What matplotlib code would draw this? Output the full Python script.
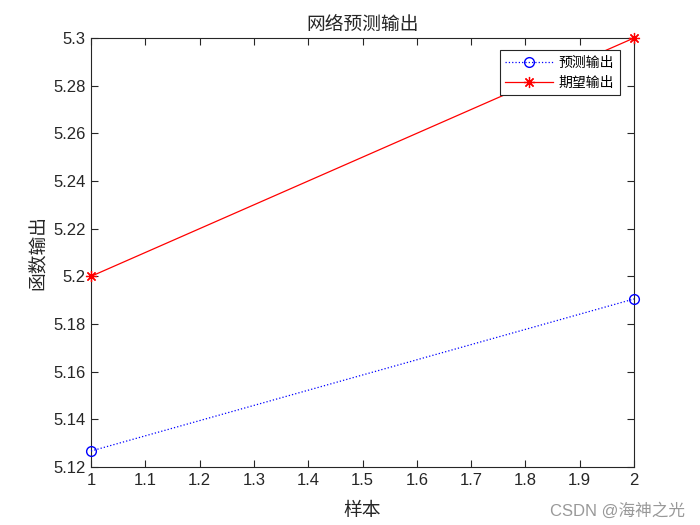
import matplotlib
matplotlib.use("Agg")
import matplotlib.pyplot as plt

plt.rcParams['font.family'] = ['Liberation Sans', 'Noto Sans CJK SC', 'DejaVu Sans']

samples = [1, 2]
predicted = [5.1267, 5.1905]
expected = [5.2, 5.3]
xticks = [1, 1.1, 1.2, 1.3, 1.4, 1.5, 1.6, 1.7, 1.8, 1.9, 2]
yticks = [5.12, 5.14, 5.16, 5.18, 5.2, 5.22, 5.24, 5.26, 5.28, 5.3]
ytick_labels = ['5.12', '5.14', '5.16', '5.18', '5.2', '5.22', '5.24', '5.26', '5.28', '5.3']
xtick_labels = ['1', '1.1', '1.2', '1.3', '1.4', '1.5', '1.6', '1.7', '1.8', '1.9', '2']

fig = plt.figure(figsize=(7, 5.25), dpi=100)
ax = fig.add_axes([91/700, 1-467/525, (634-91)/700, (467-38)/525])

ax.plot(samples, predicted, linestyle=':', color='#0000ff', marker='o', markersize=7,
        markerfacecolor='none', markeredgecolor='#0000ff', linewidth=0.9, label='预测输出',
        clip_on=False, zorder=3)
ax.plot(samples, expected, linestyle='-', color='#ff0000', marker=(8, 2, 0), markersize=8,
        markerfacecolor='#ff0000', markeredgecolor='#ff0000', markeredgewidth=0.9,
        linewidth=0.9, label='期望输出', clip_on=False, zorder=3)

ax.set_xlim(1, 2)
ax.set_ylim(5.12, 5.3)
ax.set_xticks(xticks)
ax.set_xticklabels(xtick_labels)
ax.set_yticks(yticks)
ax.set_yticklabels(ytick_labels)
ax.tick_params(direction='in', top=True, right=True, labelsize=12, length=5,
               colors='#262626', pad=4)
for s in ax.spines.values():
    s.set_color('#262626')
    s.set_linewidth(0.8)

cjk = ['Noto Sans CJK SC', 'DejaVu Sans']
ax.set_title('网络预测输出', fontsize=13.5, family=cjk, pad=6, color='#262626')
ax.set_xlabel('样本', fontsize=13.5, family=cjk, labelpad=9, color='#262626')
ax.set_ylabel('函数输出', fontsize=13.5, family=cjk, labelpad=4, color='#262626')

leg = ax.legend(loc='upper right', bbox_to_anchor=(0.974, 0.972), prop={'family': cjk, 'size': 10},
                frameon=True, fancybox=False, edgecolor='#262626', framealpha=1,
                borderpad=0.4, handlelength=3.4, labelspacing=0.45, borderaxespad=0.0,
                handletextpad=0.45)
leg.get_frame().set_linewidth(0.8)
leg.set_zorder(5)

fig.text(0.979, 0.012, 'CSDN @海神之光', ha='right', va='bottom', color='#999999',
         fontsize=12, family=['Liberation Sans', 'Noto Sans CJK SC'])

fig.savefig('out.png', dpi=100)
